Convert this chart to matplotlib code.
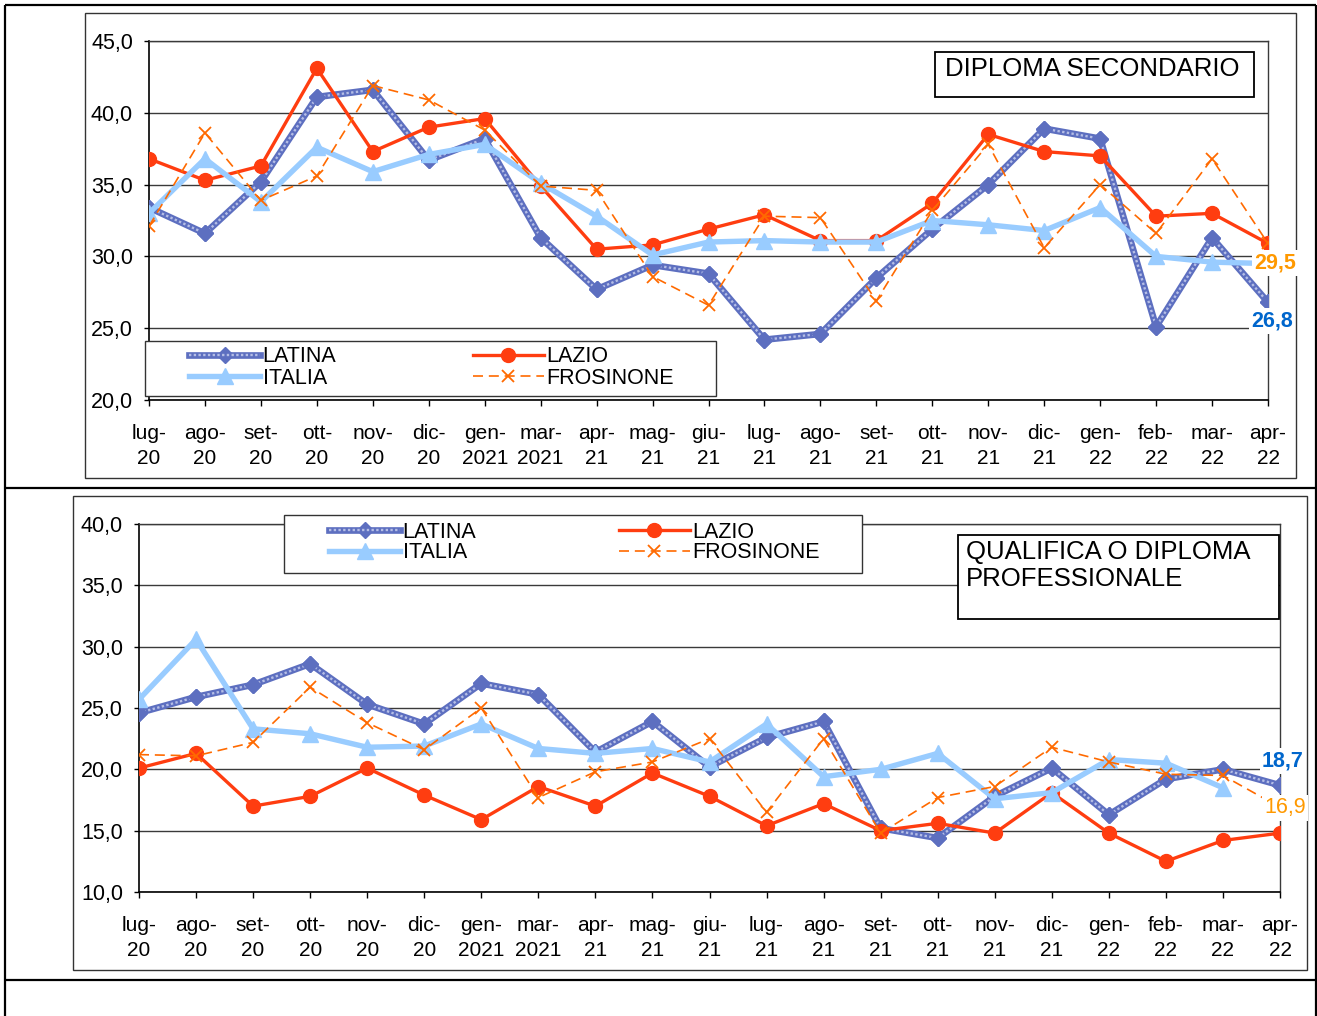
import numpy as np
import matplotlib
matplotlib.use("Agg")
import matplotlib.pyplot as plt
from matplotlib import font_manager
from matplotlib.patches import Rectangle
from matplotlib.legend_handler import HandlerTuple
from matplotlib.ticker import FuncFormatter, MultipleLocator

plt.rcParams['font.family'] = ['Liberation Sans', 'DejaVu Sans']
_names = {f.name for f in font_manager.fontManager.ttflist}
NARROW = 'Liberation Sans Narrow' in _names
XFAM = ['Liberation Sans Narrow', 'DejaVu Sans'] if NARROW else ['Liberation Sans', 'DejaVu Sans']
XSIZE = 17 if NARROW else 15

months = ["lug-\n20", "ago-\n20", "set-\n20", "ott-\n20", "nov-\n20", "dic-\n20",
          "gen-\n2021", "mar-\n2021", "apr-\n21", "mag-\n21", "giu-\n21", "lug-\n21",
          "ago-\n21", "set-\n21", "ott-\n21", "nov-\n21", "dic-\n21", "gen-\n22",
          "feb-\n22", "mar-\n22", "apr-\n22"]

# DIPLOMA SECONDARIO
sec_latina = [33.4, 31.6, 35.2, 41.1, 41.6, 36.7, 38.2, 31.3, 27.7, 29.4, 28.8,
              24.2, 24.6, 28.5, 31.9, 35.0, 38.9, 38.2, 25.1, 31.3, 26.8]
sec_lazio = [36.8, 35.3, 36.3, 43.1, 37.3, 39.0, 39.6, 34.9, 30.5, 30.8, 31.9,
             32.9, 31.1, 31.1, 33.7, 38.5, 37.3, 37.0, 32.8, 33.0, 30.9]
sec_italia = [33.0, 36.8, 33.8, 37.6, 35.9, 37.1, 37.8, 35.1, 32.8, 30.1, 31.0,
              31.1, 31.0, 31.0, 32.5, 32.2, 31.8, 33.4, 30.0, 29.6, 29.5]
sec_frosinone = [32.1, 38.6, 33.9, 35.6, 41.9, 40.9, 38.8, 34.9, 34.6, 28.6, 26.6,
                 32.8, 32.7, 26.9, 33.2, 37.8, 30.6, 35.0, 31.6, 36.8, 30.9]

# QUALIFICA O DIPLOMA PROFESSIONALE
pro_latina = [24.6, 25.9, 26.9, 28.6, 25.3, 23.7, 27.0, 26.1, 21.4, 23.9, 20.2,
              22.6, 23.9, 15.2, 14.4, 17.8, 20.1, 16.3, 19.2, 20.0, 18.7]
pro_lazio = [20.1, 21.3, 17.0, 17.8, 20.1, 17.9, 15.9, 18.6, 17.0, 19.7, 17.8,
             15.4, 17.2, 15.0, 15.6, 14.8, 18.1, 14.8, 12.5, 14.2, 14.8]
pro_italia = [25.7, 30.6, 23.3, 22.9, 21.8, 21.9, 23.7, 21.7, 21.3, 21.7, 20.6,
              23.7, 19.4, 20.0, 21.3, 17.6, 18.1, 20.8, 20.5, 18.5, np.nan]
pro_frosinone = [21.2, 21.1, 22.2, 26.7, 23.8, 21.6, 25.0, 17.7, 19.8, 20.6, 22.5,
                 16.5, 22.5, 14.8, 17.7, 18.6, 21.8, 20.6, 19.6, 19.5, 16.9]

W, H = 1317, 1016
fig = plt.figure(figsize=(W / 100, H / 100), dpi=100)


def fx(x):
    return x / W


def fy(y):
    return 1 - y / H


def frect(x0, y0, x1, y1):
    return (fx(x0), fy(y1), fx(x1) - fx(x0), fy(y0) - fy(y1))


# background table / chart frames
bg = fig.add_axes([0, 0, 1, 1], zorder=-5)
bg.set_xlim(0, W)
bg.set_ylim(H, 0)
bg.axis("off")
for (x0, y0, x1, y1) in [(5, 5, 1316, 5), (5, 488, 1316, 488), (5, 980, 1316, 980)]:
    bg.plot([x0, x1], [y0, y1], color="black", lw=1.6, solid_capstyle="butt")
for xv in (5, 1316):
    bg.plot([xv, xv], [5, 1016], color="black", lw=1.6, solid_capstyle="butt")
bg.add_patch(Rectangle((85, 13), 1296 - 85, 478 - 13, fill=False, ec="#333333", lw=1.0))
bg.add_patch(Rectangle((73, 496), 1307 - 73, 970 - 496, fill=False, ec="#333333", lw=1.0))

LAT_C = "#5D6FC0"
LAT_IN = "#B5BEE6"
LAZ_C = "#FF3D10"
ITA_C = "#99CCFF"
FRO_C = "#FF6A00"


def draw(ax, lat, laz, ita, fro):
    x = np.arange(len(months))
    l1 = ax.plot(x, lat, color=LAT_C, lw=4.8, marker="D", ms=8.5, mfc=LAT_C,
                 mec=LAT_C, zorder=3, solid_joinstyle="miter")[0]
    l1b = ax.plot(x, lat, color=LAT_IN, lw=1.7, ls=(0, (1, 1)), zorder=3.05)[0]
    ax.plot(x, lat, ls="none", marker="D", ms=8.5, mfc=LAT_C, mec=LAT_C, zorder=3.1)
    l2 = ax.plot(x, laz, color=LAZ_C, lw=2.4, marker="o", ms=10, mfc=LAZ_C,
                 mec=LAZ_C, zorder=3.2)[0]
    l3 = ax.plot(x, ita, color=ITA_C, lw=3.9, marker="^", ms=11, mfc=ITA_C,
                 mec=ITA_C, zorder=3.3)[0]
    l4 = ax.plot(x, fro, color=FRO_C, lw=1.2, ls=(0, (6, 3.5)), marker="x", ms=9,
                 mew=1.3, zorder=3.4)[0]
    ax.set_xlim(0, len(months) - 1)
    ax.set_xticks(x)
    ax.set_xticklabels(months, fontsize=XSIZE, family=XFAM, linespacing=1.45)
    ax.yaxis.set_major_locator(MultipleLocator(5))
    ax.yaxis.set_major_formatter(FuncFormatter(lambda v, p: f"{v:.1f}".replace(".", ",")))
    ax.tick_params(axis="y", labelsize=15.5, direction="out", length=3.6, width=1, pad=8)
    ax.tick_params(axis="x", direction="out", length=4.5, width=1, pad=12.5)
    ax.grid(axis="y", color="#3a3a3a", lw=1.0)
    ax.set_axisbelow(True)
    for s in ("left", "bottom"):
        ax.spines[s].set_color("black")
        ax.spines[s].set_linewidth(1.2)
    for s in ("top", "right"):
        ax.spines[s].set_color("#3a3a3a")
        ax.spines[s].set_linewidth(1.0)
    return (l1, l1b), l2, l3, l4


def legend_box(ax, box, inner, handles):
    x0, y0, x1, y1 = box
    ax.add_patch(Rectangle((fx(x0), fy(y1)), fx(x1) - fx(x0), fy(y0) - fy(y1),
                           transform=fig.transFigure, fc="white", ec="#333333",
                           lw=1.0, clip_on=False, zorder=6))
    (lat, laz, ita, fro) = handles
    ix0, iy0, ix1, iy1 = inner
    leg = ax.legend([lat, ita, laz, fro], ["LATINA", "ITALIA", "LAZIO", "FROSINONE"],
                    ncol=2, mode="expand", frameon=False, fontsize=15.5,
                    bbox_to_anchor=frect(ix0, iy0, ix1, iy1),
                    bbox_transform=fig.transFigure, loc="center",
                    handlelength=3.3, handletextpad=0.12, labelspacing=0.0,
                    borderpad=0, borderaxespad=0,
                    handler_map={tuple: HandlerTuple(ndivide=1)})
    leg.set_zorder(7)


def title_box(ax, box, lines, text_xy):
    x0, y0, x1, y1 = box
    ax.add_patch(Rectangle((fx(x0), fy(y1)), fx(x1) - fx(x0), fy(y0) - fy(y1),
                           transform=fig.transFigure, fc="white", ec="black",
                           lw=1.3, clip_on=False, zorder=6))
    ax.text(fx(text_xy[0]), fy(text_xy[1]), lines, transform=fig.transFigure,
            fontsize=18.5, va="top", ha="left", zorder=7, linespacing=1.15)


def end_label(ax, x, y, s, color, bold=True):
    ax.text(x, y, s, transform=fig.transFigure, fontsize=15.5, color=color,
            fontweight="bold" if bold else "normal", ha="left", va="center",
            zorder=8, bbox=dict(fc="white", ec="none", pad=1.5), clip_on=False)


# top panel
ax1 = fig.add_axes(frect(149, 41, 1268, 400))
h1 = draw(ax1, sec_latina, sec_lazio, sec_italia, sec_frosinone)
ax1.set_ylim(20, 45)
legend_box(ax1, (145, 341, 716, 396), (189, 343, 674, 392), h1)
title_box(ax1, (935, 52, 1254, 97), "DIPLOMA SECONDARIO", (945, 57))
end_label(ax1, fx(1254), fy(263), "29,5", "#FF9900")
end_label(ax1, fx(1251), fy(321), "26,8", "#0066CC")

# bottom panel
ax2 = fig.add_axes(frect(139, 524, 1280, 892))
h2 = draw(ax2, pro_latina, pro_lazio, pro_italia, pro_frosinone)
ax2.set_ylim(10, 40)
legend_box(ax2, (284, 515, 862, 573), (329, 517, 820, 568), h2)
title_box(ax2, (958, 535, 1279, 619), "QUALIFICA O DIPLOMA\nPROFESSIONALE", (966, 540))
end_label(ax2, fx(1262), fy(761), "18,7", "#0066CC")
end_label(ax2, fx(1264), fy(808), "16,9", "#FF9900", bold=False)

fig.savefig("out.png", dpi=100)
